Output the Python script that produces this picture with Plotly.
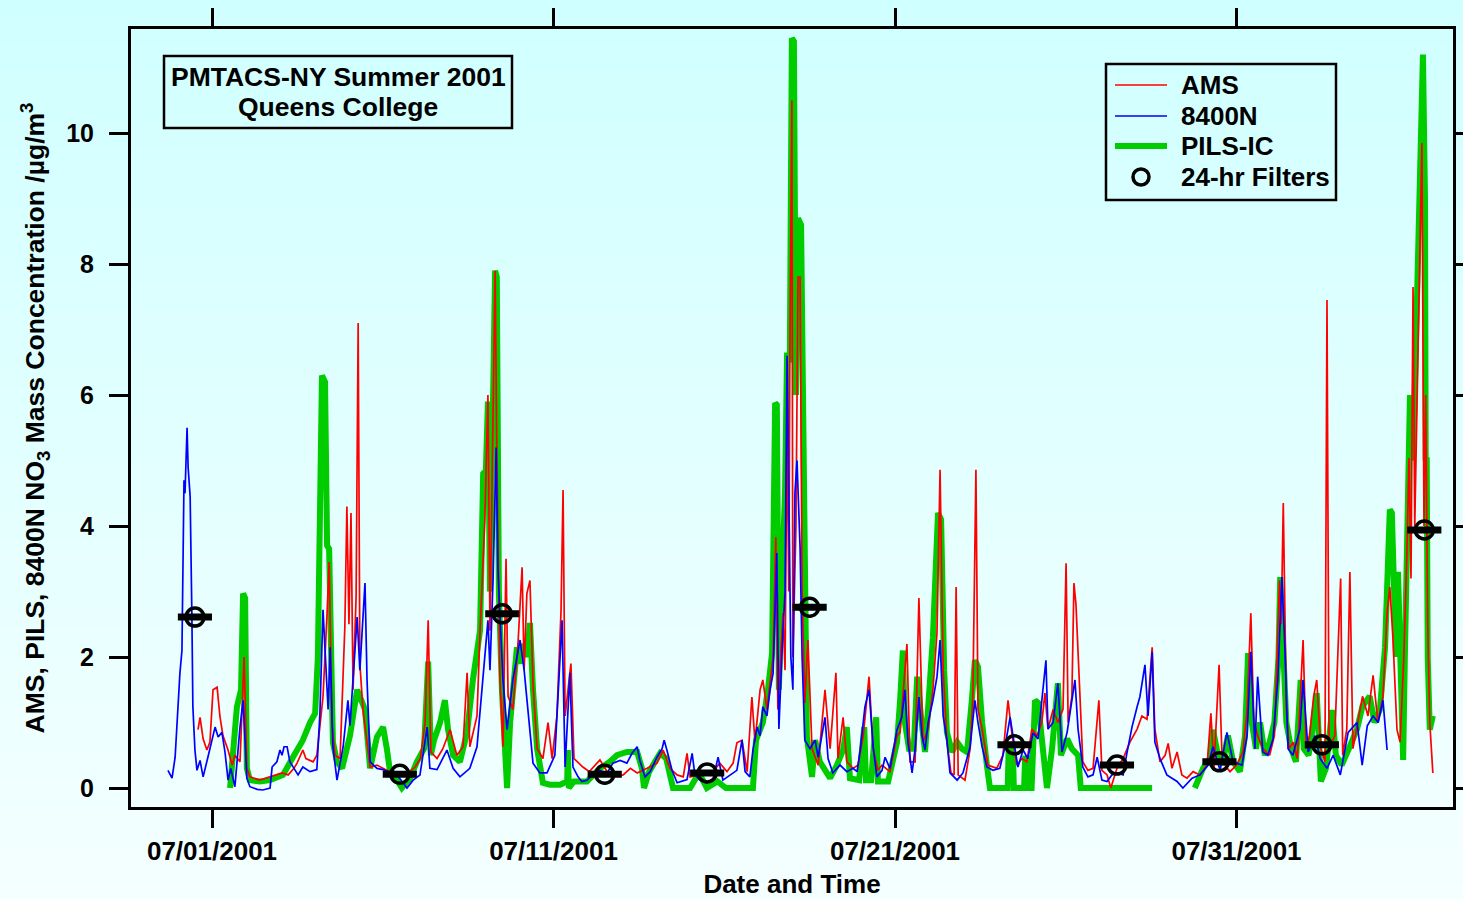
import pandas as pd
import plotly.graph_objects as go

# ---------------- data (day offset from 2001-07-01 00:00, concentration ug/m3) ----------------
ams_points = [
    (-0.41, 0.89), (-0.35, 1.08), (-0.26, 0.75), (-0.15, 0.58), (-0.06, 0.70), (0.03, 1.50), (0.15, 1.54),
    (0.23, 1.10), (0.32, 0.80), (0.47, 0.58), (0.59, 0.35), (0.67, 0.50), (0.82, 0.40), (0.94, 2.00),
    (1.02, 0.30), (1.11, 0.17), (1.40, 0.12), (1.70, 0.17), (2.05, 0.23), (2.23, 0.20), (2.40, 0.30),
    (2.49, 0.38), (2.66, 0.58), (2.75, 0.45), (2.96, 0.40), (3.07, 0.50),
    (3.25, 1.39), (3.37, 2.67), (3.43, 3.45), (3.51, 1.00), (3.60, 0.50), (3.75, 0.45), (3.89, 2.46),
    (3.95, 4.30), (4.01, 2.50), (4.07, 4.20), (4.13, 1.50), (4.22, 2.92), (4.28, 7.10), (4.33, 1.90),
    (4.42, 1.20), (4.54, 0.70),
    (4.63, 0.32), (4.83, 0.35), (5.01, 0.30), (5.20, 0.25), (5.50, 0.20), (5.71, 0.22), (5.95, 0.32),
    (6.10, 0.45), (6.24, 1.00), (6.33, 2.56), (6.41, 0.55), (6.59, 0.45), (6.76, 0.60),
    (6.97, 0.89), (7.17, 0.50), (7.35, 0.63), (7.47, 1.76), (7.55, 0.63), (7.76, 1.10), (7.85, 2.40),
    (7.99, 4.10), (8.08, 6.00), (8.14, 2.40), (8.20, 4.80), (8.29, 7.90), (8.34, 5.20), (8.43, 1.70),
    (8.52, 0.63), (8.61, 3.50), (8.67, 1.40), (8.81, 1.20), (8.96, 2.20), (9.08, 3.37), (9.14, 1.80),
    (9.22, 2.97), (9.31, 3.17), (9.40, 1.60), (9.52, 0.60), (9.69, 0.45), (9.84, 1.00), (9.96, 0.45),
    (10.10, 1.10), (10.22, 2.70), (10.28, 4.55),
    (10.34, 1.10), (10.51, 1.90), (10.60, 0.45), (10.86, 0.32), (11.05, 0.25), (11.36, 0.43), (11.57, 0.25),
    (11.74, 0.17), (12.04, 0.20), (12.25, 0.30), (12.45, 0.23), (12.74, 0.30), (13.03, 0.38), (13.21, 0.58),
    (13.41, 0.30), (13.62, 0.20), (13.80, 0.17), (13.91, 0.53), (14.00, 0.17), (14.26, 0.20), (14.49, 0.20),
    (14.67, 0.25), (14.87, 0.38), (15.08, 0.25), (15.26, 0.38), (15.37, 0.69), (15.52, 0.73), (15.67, 0.25),
    (15.81, 1.39), (15.90, 0.70), (16.05, 1.50), (16.13, 1.65), (16.25, 1.20), (16.34, 1.60), (16.43, 2.00),
    (16.51, 3.83),
    (16.57, 1.20), (16.72, 2.67), (16.78, 1.80), (16.84, 5.60), (16.89, 3.00), (16.92, 6.50), (16.98, 10.50),
    (17.01, 2.00), (17.10, 4.00), (17.16, 7.80), (17.22, 7.80), (17.28, 3.00),
    (17.36, 1.30), (17.45, 2.26), (17.57, 0.60), (17.75, 0.35), (17.95, 1.50), (18.10, 0.60), (18.27, 1.76),
    (18.33, 0.45), (18.48, 1.08), (18.59, 0.40), (18.77, 0.30), (18.92, 0.35), (19.07, 0.80), (19.24, 1.70),
    (19.36, 0.60), (19.50, 0.27), (19.62, 0.35), (19.85, 0.25), (20.06, 0.80), (20.15, 0.85), (20.26, 1.60),
    (20.35, 2.20), (20.44, 0.40), (20.59, 0.40), (20.70, 2.90), (20.82, 0.70), (20.97, 0.90), (21.11, 1.50),
    (21.23, 2.37), (21.32, 4.86), (21.41, 1.80), (21.52, 0.70), (21.64, 0.23), (21.73, 0.20), (21.79, 3.07),
    (21.85, 0.20), (22.05, 0.12), (22.20, 0.60), (22.28, 1.40), (22.37, 4.86), (22.43, 1.20), (22.55, 0.90),
    (22.72, 0.35), (22.98, 0.30), (23.16, 0.50), (23.31, 1.34), (23.43, 0.80), (23.57, 0.35), (23.72, 0.45),
    (23.86, 0.40), (24.01, 0.90), (24.16, 0.80), (24.30, 1.00), (24.39, 1.45), (24.48, 0.90), (24.63, 1.20),
    (24.77, 1.00), (24.92, 1.20), (25.01, 3.43), (25.07, 1.00), (25.18, 1.40), (25.24, 3.13), (25.30, 2.80),
    (25.42, 1.20), (25.50, 0.40), (25.65, 0.27), (25.80, 0.30), (25.97, 1.34), (26.06, 0.27), (26.21, 0.20),
    (26.32, 0.00), (26.50, 0.30), (26.68, 0.45), (26.88, 0.70), (27.09, 0.90), (27.23, 1.10), (27.38, 1.05),
    (27.53, 2.15), (27.61, 0.90), (27.76, 0.40), (27.91, 0.50), (28.00, 0.68), (28.11, 0.30), (28.26, 0.55),
    (28.40, 0.20), (28.55, 0.15), (28.73, 0.25), (28.93, 0.20), (29.14, 0.35), (29.25, 1.14), (29.34, 0.30),
    (29.49, 1.88), (29.58, 0.40), (29.81, 0.25), (30.00, 0.35), (30.19, 0.55), (30.31, 1.20), (30.42, 2.67),
    (30.51, 1.00), (30.62, 0.80), (30.77, 0.60), (30.97, 0.50), (31.11, 0.80), (31.26, 3.17), (31.31, 2.50),
    (31.37, 4.35), (31.46, 1.20), (31.54, 0.60), (31.66, 0.70), (31.78, 0.45), (31.95, 2.26), (32.04, 0.60),
    (32.14, 0.80), (32.26, 1.40), (32.35, 1.65), (32.47, 0.60), (32.59, 0.40), (32.65, 7.45), (32.71, 0.60),
    (32.88, 0.80), (33.05, 3.20), (33.11, 0.50), (33.23, 0.90), (33.32, 3.30), (33.41, 0.60), (33.55, 1.00),
    (33.69, 1.40), (33.85, 1.10), (34.00, 1.72), (34.14, 1.00), (34.29, 1.40), (34.41, 2.67), (34.49, 3.07),
    (34.58, 2.30), (34.70, 0.89), (34.79, 0.70), (34.90, 2.00), (34.99, 3.59), (35.05, 5.04), (35.11, 3.20),
    (35.17, 7.65), (35.22, 4.00), (35.31, 6.50), (35.37, 8.20), (35.43, 9.85), (35.49, 4.00), (35.54, 6.00),
    (35.60, 2.50), (35.66, 1.00), (35.75, 0.23),
]

n8400_points = [
    (-1.29, 0.27), (-1.17, 0.15), (-1.08, 0.47), (-1.02, 1.04), (-0.94, 1.75), (-0.88, 2.10), (-0.82, 4.70),
    (-0.79, 4.50), (-0.73, 5.50), (-0.70, 4.90), (-0.64, 4.45), (-0.59, 2.67), (-0.56, 1.24), (-0.50, 0.58),
    (-0.44, 0.27), (-0.35, 0.42), (-0.26, 0.17), (-0.12, 0.47), (-0.05, 0.62), (0.09, 0.93), (0.18, 0.78),
    (0.29, 0.85), (0.38, 0.55), (0.47, 0.12), (0.55, 0.30), (0.67, 0.02), (0.73, 0.38), (0.82, 0.93),
    (0.91, 1.34), (1.02, 0.15), (1.11, 0.02), (1.32, -0.02), (1.49, -0.03), (1.70, 0.00), (1.76, 0.32),
    (1.90, 0.40), (1.99, 0.58), (2.05, 0.50), (2.11, 0.63), (2.20, 0.63), (2.28, 0.40), (2.34, 0.35),
    (2.43, 0.27), (2.52, 0.20), (2.66, 0.32), (2.87, 0.25), (3.07, 0.28),
    (3.16, 1.14), (3.25, 2.72), (3.31, 2.15), (3.40, 1.20), (3.46, 2.15), (3.54, 0.63), (3.66, 0.12),
    (3.84, 0.63), (3.98, 1.34), (4.04, 0.95), (4.25, 2.61), (4.33, 1.80), (4.48, 3.13), (4.54, 1.65),
    (4.63, 0.40), (4.83, 0.30), (5.01, 0.28), (5.42, 0.20), (5.71, 0.00), (5.89, 0.12), (6.09, 0.20),
    (6.30, 0.93), (6.38, 0.30), (6.59, 0.28),
    (6.88, 0.58), (7.06, 0.30), (7.26, 0.17), (7.55, 0.30), (7.76, 0.63), (7.94, 1.65), (8.08, 2.56),
    (8.14, 1.80), (8.23, 3.18), (8.32, 5.20), (8.37, 3.37), (8.52, 1.65), (8.64, 0.89), (8.81, 1.65),
    (9.02, 2.26), (9.14, 1.80), (9.25, 1.20), (9.40, 0.38), (9.60, 0.23), (9.81, 0.23), (10.04, 0.50),
    (10.25, 2.56),
    (10.34, 0.32), (10.48, 1.76), (10.57, 0.32), (10.72, 0.17), (10.83, 0.10), (10.98, 0.12), (11.16, 0.20),
    (11.36, 0.27), (11.57, 0.23), (11.74, 0.38), (11.95, 0.42), (12.15, 0.38), (12.30, 0.53), (12.45, 0.63),
    (12.53, 0.42), (12.68, 0.17), (12.83, 0.25), (13.03, 0.47), (13.18, 0.60), (13.24, 0.73), (13.32, 0.58),
    (13.47, 0.27), (13.62, 0.08), (13.76, 0.10), (13.91, 0.13), (14.06, 0.53), (14.14, 0.20), (14.29, 0.12),
    (14.49, 0.08), (14.67, 0.13), (14.82, 0.47), (14.96, 0.12), (15.17, 0.20), (15.37, 0.27), (15.52, 0.73),
    (15.61, 0.25), (15.75, 0.17), (15.84, 0.58), (15.96, 0.93), (16.05, 0.80), (16.13, 1.24), (16.25, 1.10),
    (16.34, 1.50), (16.43, 1.75), (16.54, 3.59),
    (16.60, 0.90), (16.69, 2.06), (16.78, 3.00), (16.84, 6.60), (16.89, 4.20), (16.95, 2.00), (17.01, 1.50),
    (17.07, 4.50), (17.13, 5.00), (17.22, 3.68), (17.28, 2.00),
    (17.36, 0.73), (17.51, 0.60), (17.66, 0.73), (17.75, 0.47), (17.95, 1.08), (18.04, 0.45), (18.18, 0.23),
    (18.39, 0.35), (18.59, 0.25), (18.77, 0.30), (18.89, 0.25), (18.98, 0.58), (19.12, 1.24), (19.24, 1.50),
    (19.36, 0.63), (19.47, 0.17), (19.62, 0.27), (19.71, 0.47), (19.85, 0.30), (20.06, 0.89), (20.20, 1.08),
    (20.29, 1.50), (20.38, 0.70), (20.50, 0.23), (20.59, 0.60), (20.70, 1.39), (20.79, 0.80), (20.88, 0.58),
    (20.97, 1.00), (21.11, 1.34), (21.23, 1.70), (21.32, 2.26), (21.41, 1.10), (21.52, 0.73), (21.61, 0.23),
    (21.82, 0.12), (21.99, 0.23), (22.20, 0.63), (22.34, 1.34), (22.43, 1.00), (22.55, 0.63), (22.69, 0.32),
    (22.87, 0.27), (23.07, 0.30), (23.22, 0.63), (23.37, 1.08), (23.46, 0.80), (23.60, 0.32), (23.75, 0.58),
    (23.89, 0.45), (24.04, 0.84), (24.19, 0.75), (24.30, 1.34), (24.42, 1.95), (24.48, 0.90), (24.63, 1.00),
    (24.77, 1.60), (24.89, 0.55), (25.04, 0.85), (25.18, 1.34), (25.27, 1.65), (25.36, 0.90), (25.50, 0.32),
    (25.65, 0.17), (25.80, 0.20), (25.92, 0.47), (26.06, 0.12), (26.21, 0.10), (26.35, 0.20), (26.50, 0.23),
    (26.68, 0.20), (26.79, 0.53), (26.94, 0.93), (27.09, 1.24), (27.17, 1.39),
    (27.32, 1.88), (27.41, 1.10), (27.53, 2.08), (27.61, 0.70), (27.76, 0.45), (27.96, 0.20), (28.26, 0.10),
    (28.43, 0.00), (28.70, 0.15), (28.93, 0.20), (29.17, 0.35), (29.31, 0.63), (29.52, 0.27), (29.72, 0.85),
    (29.90, 0.40), (30.16, 0.35), (30.31, 0.80), (30.42, 2.08), (30.54, 0.60), (30.62, 1.70), (30.77, 0.55),
    (30.92, 0.50), (31.07, 0.75), (31.21, 1.65), (31.33, 3.22), (31.42, 2.10), (31.51, 0.60), (31.65, 0.50),
    (31.86, 0.90), (31.95, 1.65), (32.10, 0.55), (32.30, 0.80), (32.45, 0.45), (32.65, 0.30), (32.83, 0.50),
    (33.04, 0.20), (33.27, 0.85), (33.53, 1.00), (33.68, 0.35), (33.83, 0.95), (34.00, 1.10), (34.15, 1.00),
    (34.29, 1.34), (34.41, 0.58),
]

pils_points = [
    (0.53, 0.00), (0.62, 0.58), (0.73, 1.24), (0.85, 1.50), (0.91, 2.97), (0.97, 2.90), (1.02, 0.30),
    (1.11, 0.12), (1.40, 0.10), (1.70, 0.12), (2.08, 0.20), (2.37, 0.47), (2.66, 0.73), (2.87, 1.00),
    (3.02, 1.14), (3.10, 2.00),
    (3.16, 4.50), (3.22, 6.30), (3.31, 6.20), (3.37, 3.70), (3.43, 3.65), (3.48, 1.50), (3.54, 0.70),
    (3.66, 0.40), (3.81, 0.30), (4.04, 0.80), (4.25, 1.50), (4.48, 1.20),
    (4.63, 0.30), (4.83, 0.78), (5.01, 0.93), (5.12, 0.60), (5.20, 0.30), (5.56, 0.00),
    (5.80, 0.15), (6.00, 0.40), (6.21, 0.60), (6.33, 1.93), (6.41, 0.50), (6.50, 0.73), (6.68, 1.00),
    (6.82, 1.34), (6.91, 0.90), (7.06, 0.50), (7.26, 0.40), (7.47, 0.85), (7.64, 1.65), (7.85, 2.41),
    (7.94, 4.80), (8.02, 4.85), (8.08, 5.90), (8.14, 3.00), (8.23, 6.00), (8.29, 7.90), (8.34, 7.80),
    (8.40, 3.00), (8.49, 1.50), (8.58, 0.70), (8.64, 0.00), (8.73, 1.00), (8.84, 1.80), (8.93, 2.15),
    (9.02, 1.90), (9.11, 2.20), (9.22, 2.00), (9.31, 2.52), (9.40, 1.50), (9.52, 0.60), (9.69, 0.08),
    (9.90, 0.05), (10.19, 0.05),
    (10.40, 0.10), (10.42, 0.58), (10.45, 0.00), (10.60, 0.10), (10.98, 0.10), (11.36, 0.30), (11.65, 0.40),
    (11.86, 0.50), (12.15, 0.55), (12.45, 0.55), (12.59, 0.30), (12.65, 0.00), (12.80, 0.25), (13.12, 0.53),
    (13.30, 0.45), (13.50, 0.00), (14.00, 0.00), (14.26, 0.23), (14.49, 0.00), (14.80, 0.10), (15.05, 0.00),
    (15.84, 0.00), (15.93, 0.73), (16.13, 1.00), (16.28, 1.50), (16.40, 2.06),
    (16.49, 5.88), (16.54, 5.85), (16.60, 1.50), (16.69, 3.20), (16.78, 4.50), (16.84, 6.65), (16.92, 6.50),
    (16.98, 11.45), (17.04, 11.40), (17.10, 6.00), (17.16, 8.70), (17.25, 8.60), (17.31, 5.00),
    (17.36, 2.40), (17.42, 0.78), (17.57, 0.17), (17.66, 0.73), (17.80, 0.40), (18.10, 0.15), (18.30, 0.35),
    (18.48, 0.58), (18.59, 0.93), (18.68, 0.15), (18.95, 0.12), (19.10, 0.93), (19.15, 0.12), (19.30, 0.12),
    (19.45, 1.08), (19.50, 0.10), (19.80, 0.10), (20.06, 0.70), (20.15, 1.34), (20.23, 2.10), (20.29, 1.00),
    (20.41, 0.60), (20.55, 0.60), (20.65, 1.70), (20.76, 1.10), (20.88, 0.55), (21.02, 1.60), (21.11, 2.30),
    (21.26, 4.20), (21.35, 4.10), (21.44, 1.80), (21.52, 0.85), (21.67, 0.55), (21.82, 0.70), (21.96, 0.60),
    (22.11, 0.55), (22.25, 1.34), (22.34, 1.95), (22.43, 1.85), (22.55, 1.00), (22.69, 0.35), (22.78, 0.00),
    (23.30, 0.00), (23.33, 0.63), (23.45, 0.63), (23.48, 0.00), (23.78, 0.00), (23.81, 0.45), (23.90, 0.45),
    (23.93, 0.00), (24.00, 0.00), (24.10, 1.34), (24.19, 1.30), (24.39, 0.30), (24.45, 0.00), (24.60, 0.60),
    (24.77, 1.60), (24.86, 0.50), (25.04, 0.75), (25.18, 0.60), (25.36, 0.50), (25.44, 0.00), (27.53, 0.00),
    (28.10, None),
    (28.78, 0.00), (29.02, 0.30), (29.22, 0.45), (29.31, 0.89), (29.46, 0.50), (29.58, 0.35), (29.75, 0.80),
    (29.90, 0.40), (30.10, 0.25), (30.25, 0.80), (30.34, 2.06), (30.45, 1.00), (30.57, 0.60), (30.69, 1.00),
    (30.83, 0.50), (30.97, 0.70), (31.11, 1.00), (31.23, 2.00), (31.28, 3.22), (31.37, 2.00), (31.46, 1.00),
    (31.60, 0.60), (31.74, 0.40), (31.88, 1.65), (31.97, 0.60), (32.11, 0.50), (32.20, 0.80), (32.35, 1.45),
    (32.47, 0.10), (32.62, 0.30), (32.80, 1.19), (32.91, 0.50), (33.08, 0.35), (33.29, 0.60), (33.53, 0.90),
    (33.69, 1.25), (33.90, 1.40), (34.04, 1.00), (34.20, 1.20), (34.35, 2.15), (34.43, 3.18), (34.49, 4.25),
    (34.55, 4.20), (34.61, 3.00), (34.67, 2.00), (34.73, 3.30), (34.79, 1.80), (34.88, 0.43), (34.93, 2.00),
    (34.99, 4.20), (35.08, 6.00), (35.17, 5.00), (35.25, 7.00), (35.31, 8.50), (35.40, 10.50), (35.46, 11.20),
    (35.52, 9.00), (35.54, 5.00), (35.57, 5.05), (35.60, 2.00), (35.66, 0.89), (35.75, 1.10),
]

filter_day = [-0.5, 5.5, 8.5, 11.5, 14.5, 17.5, 23.5, 26.5, 29.5, 32.5, 35.5]
filter_val = [2.61, 0.21, 2.66, 0.21, 0.23, 2.76, 0.66, 0.35, 0.40, 0.66, 3.94]
filter_half_width_days = 0.5

x_tick_dates = ["2001-07-01", "2001-07-11", "2001-07-21", "2001-07-31"]
y_tick_vals = [0, 2, 4, 6, 8, 10]

# ---------------- helpers ----------------
BASE = pd.Timestamp("2001-07-01 00:00")


def to_time(days):
    return [BASE + pd.Timedelta(days=d) for d in days]


def split(points):
    return [p[0] for p in points], [p[1] for p in points]


ams_day, ams_val = split(ams_points)
n8400_day, n8400_val = split(n8400_points)
pils_day, pils_val = split(pils_points)

FONT = "Liberation Sans, Arial, Helvetica, sans-serif"
W, H = 1463, 899
L, R, T, B = 131, 10, 29, 92
PW, PH = W - L - R, H - T - B


def px(x):  # pixel -> paper x
    return (x - L) / PW


def py(y):  # pixel -> paper y
    return (H - B - y) / PH


fig = go.Figure()

fig.add_trace(go.Scatter(x=to_time(pils_day), y=pils_val, mode="lines", name="PILS-IC",
                         line=dict(color="#00CC00", width=6), showlegend=False))
fig.add_trace(go.Scatter(x=to_time(ams_day), y=ams_val, mode="lines", name="AMS",
                         line=dict(color="#FF0000", width=1.7), showlegend=False))
fig.add_trace(go.Scatter(x=to_time(n8400_day), y=n8400_val, mode="lines", name="8400N",
                         line=dict(color="#0000FF", width=1.7), showlegend=False))

# 24-hr filter bars
bar_x, bar_y = [], []
for d, v in zip(filter_day, filter_val):
    bar_x += [BASE + pd.Timedelta(days=d - filter_half_width_days),
              BASE + pd.Timedelta(days=d + filter_half_width_days), None]
    bar_y += [v, v, None]
fig.add_trace(go.Scatter(x=bar_x, y=bar_y, mode="lines", line=dict(color="black", width=7),
                         showlegend=False, hoverinfo="skip"))
fig.add_trace(go.Scatter(x=to_time(filter_day), y=filter_val, mode="markers", name="24-hr Filters",
                         marker=dict(symbol="circle-open", size=18, color="black",
                                     line=dict(color="black", width=3.5)),
                         showlegend=False))

shapes = []
# background vertical gradient (light cyan to paler cyan)
N = 60
y_top, y_bot = py(0), py(H)
for i in range(N):
    t = i / (N - 1)
    r = int(round(208 + (244 - 208) * t))
    col = f"rgb({r},255,255)"
    y1 = y_top + (y_bot - y_top) * i / N
    y0 = y_top + (y_bot - y_top) * (i + 1) / N
    shapes.append(dict(type="rect", xref="paper", yref="paper", x0=px(-5), x1=px(W + 5),
                       y0=y0 - 0.002, y1=y1 + 0.002, fillcolor=col, line=dict(width=0), layer="below"))

# title box
shapes.append(dict(type="rect", xref="paper", yref="paper", x0=px(164), x1=px(512), y0=py(128), y1=py(56),
                   line=dict(color="black", width=2.5), fillcolor="rgba(0,0,0,0)", layer="above"))
# legend box
shapes.append(dict(type="rect", xref="paper", yref="paper", x0=px(1106), x1=px(1336), y0=py(200), y1=py(64),
                   line=dict(color="black", width=2.5), fillcolor="rgba(0,0,0,0)", layer="above"))
legend_items = [("AMS", "#FF0000", 1.7, 85), ("8400N", "#0000FF", 1.7, 116), ("PILS-IC", "#00CC00", 6, 146)]
for label, col, w, yy in legend_items:
    shapes.append(dict(type="line", xref="paper", yref="paper", x0=px(1115), x1=px(1167), y0=py(yy), y1=py(yy),
                       line=dict(color=col, width=w), layer="above"))
shapes.append(dict(type="circle", xref="paper", yref="paper", x0=px(1133), x1=px(1149), y0=py(185), y1=py(169),
                   line=dict(color="black", width=3.5), fillcolor="rgba(0,0,0,0)", layer="above"))

annotations = []
for txt, yy in [("PMTACS-NY Summer 2001", 77), ("Queens College", 107)]:
    annotations.append(dict(text=txt, xref="paper", yref="paper", x=px(338), y=py(yy), showarrow=False,
                            xanchor="center", yanchor="middle",
                            font=dict(family=FONT, size=26.5, color="black", weight="bold")))
for label, yy in [("AMS", 85), ("8400N", 116), ("PILS-IC", 146), ("24-hr Filters", 177)]:
    annotations.append(dict(text=label, xref="paper", yref="paper", x=px(1179), y=py(yy), showarrow=False,
                            xanchor="left", yanchor="middle",
                            font=dict(family=FONT, size=26, color="black", weight="bold")))

fig.update_layout(
    width=W, height=H,
    margin=dict(l=L, r=R, t=T, b=B, autoexpand=False),
    paper_bgcolor="rgb(226,255,255)",
    plot_bgcolor="rgba(0,0,0,0)",
    shapes=shapes,
    annotations=annotations,
    showlegend=False,
    font=dict(family=FONT, color="black"),
)

fig.update_xaxes(
    type="date",
    automargin=False,
    range=[BASE + pd.Timedelta(days=-2.372), BASE + pd.Timedelta(days=36.34)],
    tickvals=[pd.Timestamp(d) for d in x_tick_dates],
    tickformat="%m/%d/%Y",
    ticks="outside", ticklen=18, tickwidth=2.5, tickcolor="black",
    showline=True, linewidth=3, linecolor="black", mirror="ticks",
    showgrid=False, zeroline=False,
    tickfont=dict(family=FONT, size=26, color="black", weight="bold"),
    ticklabelstandoff=1,
    title=dict(text="Date and Time", standoff=14,
               font=dict(family=FONT, size=26, color="black", weight="bold")),
)
fig.update_yaxes(
    automargin=False,
    range=[-0.29, 11.59],
    tickvals=y_tick_vals,
    ticks="outside", ticklen=19, tickwidth=2.5, tickcolor="black",
    showline=True, linewidth=3, linecolor="black", mirror="ticks",
    showgrid=False, zeroline=False,
    tickfont=dict(family=FONT, size=25, color="black", weight="bold"),
    ticklabelstandoff=10,
    title=dict(text="AMS, PILS, 8400N NO<sub>3</sub> Mass Concentration /µg/m<sup>3</sup>", standoff=14,
               font=dict(family=FONT, size=26.5, color="black", weight="bold")),
)

fig.write_html("out.html")
